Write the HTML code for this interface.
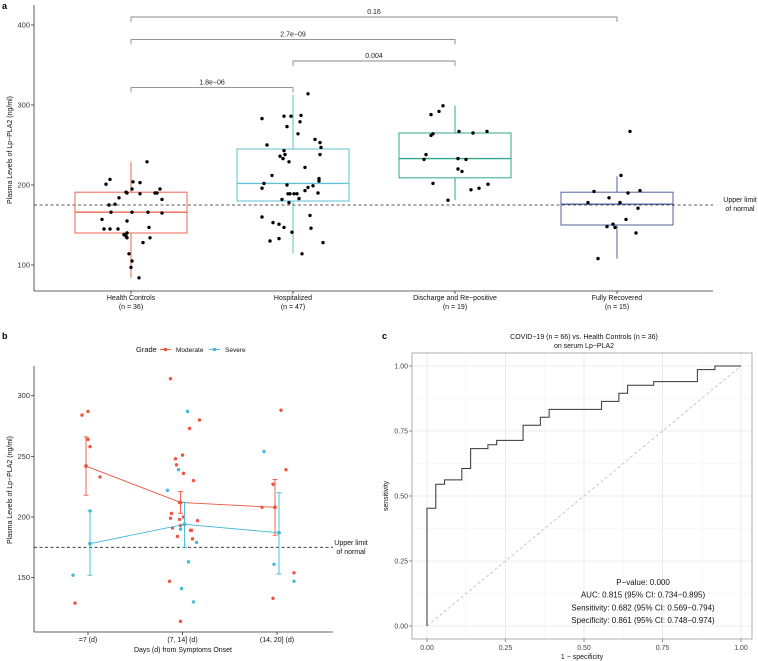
<!DOCTYPE html>
<html><head><meta charset="utf-8">
<style>
html,body{margin:0;padding:0;background:#fff;}
svg{display:block;font-family:"Liberation Sans",Arial,sans-serif;}
</style></head>
<body>
<svg id="fig" width="758" height="661" viewBox="0 0 758 661"></svg>
<script>
// ---------- Panel a data ----------
const aCategories = ["Health Controls","Hospitalized","Discharge and Re\u2212positive","Fully Recovered"];
const aCounts = ["(n = 36)","(n = 47)","(n = 19)","(n = 15)"];
const aQ1 = [140,180,209,150];
const aMedian = [166,202,233,176];
const aQ3 = [191,245,265,191];
const aWhiskLo = [84,114,181,108];
const aWhiskHi = [229,313,299,211];
const aTicks = [100,200,300,400];
const aPointsHC = [201,207,204,203,229,191,190,195,189,184,190,190,195,182,176,175,166,166,166,165,157,155,145,145,145,147,138,136,134,140,134,128,114,105,97,84];
const aJitterHC = [-25,-21,2,9,16,-5,-4,1,9,-12,24,26,29,31,-16,-22,-20,1,17,31,-29,-4,-27,-21,-13,18,-7,-5,-4,-4,19,12,-2,1,0,8];
const aPointsHosp = [314,283,286,286,287,273,279,264,250,257,253,247,243,236,233,238,229,238,222,212,202,196,200,199,197,208,205,193,190,189,189,189,183,182,178,160,153,151,147,141,162,146,130,133,128,114,189];
const aJitterHosp = [15,-31,-9,-2,8,-6,7,5,-26,22,27,28,-9,-13,-10,-8,-4,27,12,-21,-29,-31,-6,20,15,26,26,12,25,-5,-3,4,6,-11,-4,-31,-20,-14,-9,-1,17,18,-23,-14,30,9,1];
const aPointsDis = [299,288,292,267,265,267,262,264,238,232,233,232,220,217,202,194,196,201,181];
const aJitterDis = [-12,-24,-16,4,18,32,-24,-22,-29,-31,3,11,3,7,-22,16,24,33,-7];
const aPointsFR = [267,212,192,190,193,184,178,178,171,157,148,151,147,140,108];
const aJitterFR = [13,4,-23,11,23,-8,-29,3,21,9,-10,-4,-2,19,-19];
const aBrackets = [[0,3,"0.16"],[0,2,"2.7e\u221209"],[1,2,"0.004"],[0,1,"1.8e\u221206"]];
const aBracketY = [410,382,355,322];
const upperLimit = 175;

// ---------- Panel b data ----------
const bCategories = ["=7 (d)","(7, 14] (d)","(14, 20] (d)"];
const bTicks = [150,200,250,300];
const bModMean = [242,212,208];
const bModLo = [218,203,185];
const bModHi = [266,221,231];
const bSevMean = [178,194,187];
const bSevLo = [152,175,153];
const bSevHi = [205,212,220];
const bModCat = [0,0,0,0,0,0,1,1,1,1,1,1,1,1,1,1,1,1,1,1,1,1,1,1,1,1,1,1,2,2,2,2,2,2];
const bModVal = [284,287,264,258,233,129,314,248,243,251,236,273,280,230,212,203,199,198,200,191,193,189,189,197,182,184,147,114,288,239,227,208,133,154];
const bModJit = [-6,0,0,2,12,-13,-12,-7,-6,0,1,7,17,11,-3,-11,-12,-3,1,-10,-2,8,9,15,10,-5,-13,-2,4,9,-4,-15,-4,17];
const bSevCat = [0,0,1,1,1,1,1,1,1,1,2,2,2];
const bSevVal = [205,152,287,239,222,190,179,163,141,130,254,161,147];
const bSevJit = [2,-15,5,-4,-15,-2,14,6,-1,11,-13,-3,17];

// ---------- Panel c data ----------
const cFpr = [0,0,0.028,0.028,0.056,0.056,0.111,0.111,0.139,0.139,0.194,0.194,0.222,0.222,0.306,0.306,0.361,0.361,0.389,0.389,0.556,0.556,0.611,0.611,0.639,0.639,0.722,0.722,0.861,0.861,0.917,0.917,1];
const cTpr = [0,0.453,0.453,0.545,0.545,0.562,0.562,0.606,0.606,0.682,0.682,0.697,0.697,0.714,0.714,0.772,0.772,0.803,0.803,0.833,0.833,0.864,0.864,0.895,0.895,0.926,0.926,0.94,0.94,0.986,0.986,1,1];
const cTicks = [0,0.25,0.5,0.75,1];
const cTickLabels = ["0.00","0.25","0.50","0.75","1.00"];

const NS="http://www.w3.org/2000/svg";
const svg=document.getElementById('fig');
function el(tag,attrs,parent,text){
  const e=document.createElementNS(NS,tag);
  for(const k in attrs)e.setAttribute(k,attrs[k]);
  if(text!==undefined)e.textContent=text;
  (parent||svg).appendChild(e);return e;
}
function grp(name){const g=el('g',{});


return g;}

// ===== Panel a =====
const ax=x=>0, aX=i=>131+i*162, aY=v=>265-(v-100)*0.8;
const A=grp('panel-a');
const t1=el('text',{x:2,y:9,'font-size':9,'font-weight':'bold'},A,'a');

el('line',{x1:34,y1:5,x2:34,y2:291,stroke:'#333','stroke-width':0.8},A);
el('line',{x1:34,y1:291,x2:713,y2:291,stroke:'#333','stroke-width':0.8},A);
aTicks.forEach(v=>{
  el('line',{x1:31,y1:aY(v),x2:34,y2:aY(v),stroke:'#333','stroke-width':0.8},A);
  const t=el('text',{x:30,y:aY(v)+2.5,'font-size':7.5,'text-anchor':'end',fill:'#333'},A,String(v));
  
});
const ayt=el('text',{x:0,y:0,'font-size':7,'text-anchor':'middle',fill:'#111',transform:'translate(12,150) rotate(-90)'},A,'Plasma Levels of Lp\u2212PLA2 (ng/ml)');

const aColors=['#F2654F','#5DC3D6','#2FA88F','#5363A3'];
const aPts=[aPointsHC,aPointsHosp,aPointsDis,aPointsFR];
const aJit=[aJitterHC,aJitterHosp,aJitterDis,aJitterFR];
aCategories.forEach((c,i)=>{
  const x=aX(i);
  el('line',{x1:x,y1:291,x2:x,y2:294,stroke:'#333','stroke-width':0.8},A);
  const l=el('text',{x:x,y:300,'font-size':7,'text-anchor':'middle',fill:'#111'},A,c);
  
  el('text',{x:x,y:309,'font-size':7,'text-anchor':'middle',fill:'#111'},A,aCounts[i]);
  const b=grp('box-'+i);A.appendChild(b);
  el('line',{x1:x,y1:aY(aWhiskHi[i]),x2:x,y2:aY(aQ3[i]),stroke:aColors[i],'stroke-width':1},b);
  el('line',{x1:x,y1:aY(aQ1[i]),x2:x,y2:aY(aWhiskLo[i]),stroke:aColors[i],'stroke-width':1},b);
  el('rect',{x:x-56,y:aY(aQ3[i]),width:112,height:aY(aQ1[i])-aY(aQ3[i]),fill:'none',stroke:aColors[i],'stroke-width':1},b);
  el('line',{x1:x-56,y1:aY(aMedian[i]),x2:x+56,y2:aY(aMedian[i]),stroke:aColors[i],'stroke-width':1.4},b);
  aPts[i].forEach((v,j)=>{
    const p=el('circle',{cx:x+aJit[i][j],cy:aY(v),r:1.7,fill:'#000'},A);
    
    
  });
});
el('line',{x1:34,y1:aY(upperLimit),x2:713,y2:aY(upperLimit),stroke:'#222','stroke-width':0.8,'stroke-dasharray':'3,2.5'},A);
el('text',{x:740,y:202,'font-size':7,'text-anchor':'middle',fill:'#111'},A,'Upper limit');
el('text',{x:740,y:211,'font-size':7,'text-anchor':'middle',fill:'#111'},A,'of normal');
aBrackets.forEach((b,k)=>{
  const y=aY(aBracketY[k]);const x1=aX(b[0]),x2=aX(b[1]);
  const g=grp('significance-bracket');A.appendChild(g);
  el('path',{d:`M${x1},${y+5}V${y}H${x2}V${y+5}`,fill:'none',stroke:'#888','stroke-width':0.9},g);
  el('text',{x:(x1+x2)/2,y:y-3,'font-size':7,'text-anchor':'middle',fill:'#222'},g,b[2]);
});

// ===== Panel b =====
const bX=i=>88+i*94.5, bY=v=>517-(v-200)*1.213;
const B=grp('panel-b');
const t2=el('text',{x:2,y:339,'font-size':9,'font-weight':'bold'},B,'b');

el('line',{x1:34,y1:366,x2:34,y2:632,stroke:'#333','stroke-width':0.8},B);
el('line',{x1:34,y1:632,x2:333,y2:632,stroke:'#333','stroke-width':0.8},B);
bTicks.forEach(v=>{
  el('line',{x1:31,y1:bY(v),x2:34,y2:bY(v),stroke:'#333','stroke-width':0.8},B);
  const t=el('text',{x:30,y:bY(v)+2.5,'font-size':7.5,'text-anchor':'end',fill:'#333'},B,String(v));
  
});
bCategories.forEach((c,i)=>{
  el('line',{x1:bX(i),y1:632,x2:bX(i),y2:635,stroke:'#333','stroke-width':0.8},B);
  const t=el('text',{x:bX(i),y:642,'font-size':7,'text-anchor':'middle',fill:'#111'},B,c);
  
});
const bxt=el('text',{x:183,y:652,'font-size':7,'text-anchor':'middle',fill:'#111'},B,'Days (d) from Symptoms Onset');

const byt=el('text',{x:0,y:0,'font-size':7,'text-anchor':'middle',fill:'#111',transform:'translate(12,490) rotate(-90)'},B,'Plasma Levels of Lp\u2212PLA2 (ng/ml)');

el('line',{x1:34,y1:bY(upperLimit),x2:333,y2:bY(upperLimit),stroke:'#222','stroke-width':0.8,'stroke-dasharray':'3,2.5'},B);
el('text',{x:351,y:545,'font-size':7,'text-anchor':'middle',fill:'#111'},B,'Upper limit');
el('text',{x:351,y:554,'font-size':7,'text-anchor':'middle',fill:'#111'},B,'of normal');
const red='#EE5440', blue='#45B8D8';
function series(mean,lo,hi,cats,vals,jit,col,dx,name){
  const g=grp(name);B.appendChild(g);
  cats.forEach((c,j)=>{
    const p=el('circle',{cx:bX(c)+jit[j],cy:bY(vals[j]),r:1.7,fill:col},g);
    
    
  });
  el('polyline',{points:mean.map((m,i)=>`${bX(i)+dx},${bY(m)}`).join(' '),fill:'none',stroke:col,'stroke-width':0.9},g);
  mean.forEach((m,i)=>{
    const x=bX(i)+dx;
    el('path',{d:`M${x-2.5},${bY(hi[i])}H${x+2.5}M${x},${bY(hi[i])}V${bY(lo[i])}M${x-2.5},${bY(lo[i])}H${x+2.5}`,stroke:col,'stroke-width':0.9,fill:'none'},g);
    el('circle',{cx:x,cy:bY(m),r:1.9,fill:col},g);
  });
}
series(bModMean,bModLo,bModHi,bModCat,bModVal,bModJit,red,-2,'series-moderate');
series(bSevMean,bSevLo,bSevHi,bSevCat,bSevVal,bSevJit,blue,2,'series-severe');
const lg=grp('legend');B.appendChild(lg);
el('text',{x:136,y:352,'font-size':7.5,fill:'#111'},lg,'Grade');
el('line',{x1:160,y1:349.5,x2:171,y2:349.5,stroke:red,'stroke-width':0.9},lg);
el('circle',{cx:165.5,cy:349.5,r:1.8,fill:red},lg);
el('text',{x:176,y:352,'font-size':6.5,fill:'#111'},lg,'Moderate');
el('line',{x1:209,y1:349.5,x2:220,y2:349.5,stroke:blue,'stroke-width':0.9},lg);
el('circle',{cx:214.5,cy:349.5,r:1.8,fill:blue},lg);
el('text',{x:225,y:352,'font-size':6.5,fill:'#111'},lg,'Severe');

// ===== Panel c =====
const cX=f=>427+f*314, cY=s=>626-s*260;
const C=grp('panel-c');
const t3=el('text',{x:382,y:339,'font-size':9,'font-weight':'bold'},C,'c');

const ct=el('text',{x:584,y:339,'font-size':7,'text-anchor':'middle',fill:'#111'},C,'COVID\u221219 (n = 66) vs. Health Controls (n = 36)');

el('text',{x:584,y:348,'font-size':7,'text-anchor':'middle',fill:'#111'},C,'on serum Lp\u2212PLA2');
// grid
for(let k=0;k<4;k++){const m=(cTicks[k]+cTicks[k+1])/2;
  el('line',{x1:412,x2:752,y1:cY(m),y2:cY(m),stroke:'#f0f0f0','stroke-width':0.5},C);
  el('line',{y1:353,y2:639,x1:cX(m),x2:cX(m),stroke:'#f0f0f0','stroke-width':0.5},C);}
cTicks.forEach((v,i)=>{
  el('line',{x1:412,x2:752,y1:cY(v),y2:cY(v),stroke:'#e6e6e6','stroke-width':0.8},C);
  el('line',{y1:353,y2:639,x1:cX(v),x2:cX(v),stroke:'#e6e6e6','stroke-width':0.8},C);
  el('line',{x1:409,x2:412,y1:cY(v),y2:cY(v),stroke:'#555','stroke-width':0.7},C);
  el('line',{y1:639,y2:642,x1:cX(v),x2:cX(v),stroke:'#555','stroke-width':0.7},C);
  const yl=el('text',{x:408,y:cY(v)+2.5,'font-size':7,'text-anchor':'end',fill:'#444'},C,cTickLabels[i]);
  
  const xl=el('text',{x:cX(v),y:650,'font-size':7,'text-anchor':'middle',fill:'#444'},C,cTickLabels[i]);
  
});
el('rect',{x:412,y:353,width:340,height:286,fill:'none',stroke:'#999','stroke-width':0.8},C);
el('line',{x1:cX(0),y1:cY(0),x2:cX(1),y2:cY(1),stroke:'#bbb','stroke-width':0.8,'stroke-dasharray':'3,2.5'},C);
const roc=el('polyline',{points:cFpr.map((f,i)=>`${cX(f)},${cY(cTpr[i])}`).join(' '),fill:'none',stroke:'#333','stroke-width':1},C);

const cxt=el('text',{x:582,y:659,'font-size':7,'text-anchor':'middle',fill:'#111'},C,'1 \u2212 specificity');

const cyt=el('text',{x:0,y:0,'font-size':7,'text-anchor':'middle',fill:'#111',transform:'translate(388,496) rotate(-90)'},C,'sensitivity');

const stats=['P\u2212value: 0.000','AUC: 0.815 (95% CI: 0.734\u22120.895)','Sensitivity: 0.682 (95% CI: 0.569\u22120.794)','Specificity: 0.861 (95% CI: 0.748\u22120.974)'];
stats.forEach((s,i)=>{
  const t=el('text',{x:643,y:585+i*12.7,'font-size':8,'text-anchor':'middle',fill:'#111'},C,s);
  
});
</script>
</body></html>
